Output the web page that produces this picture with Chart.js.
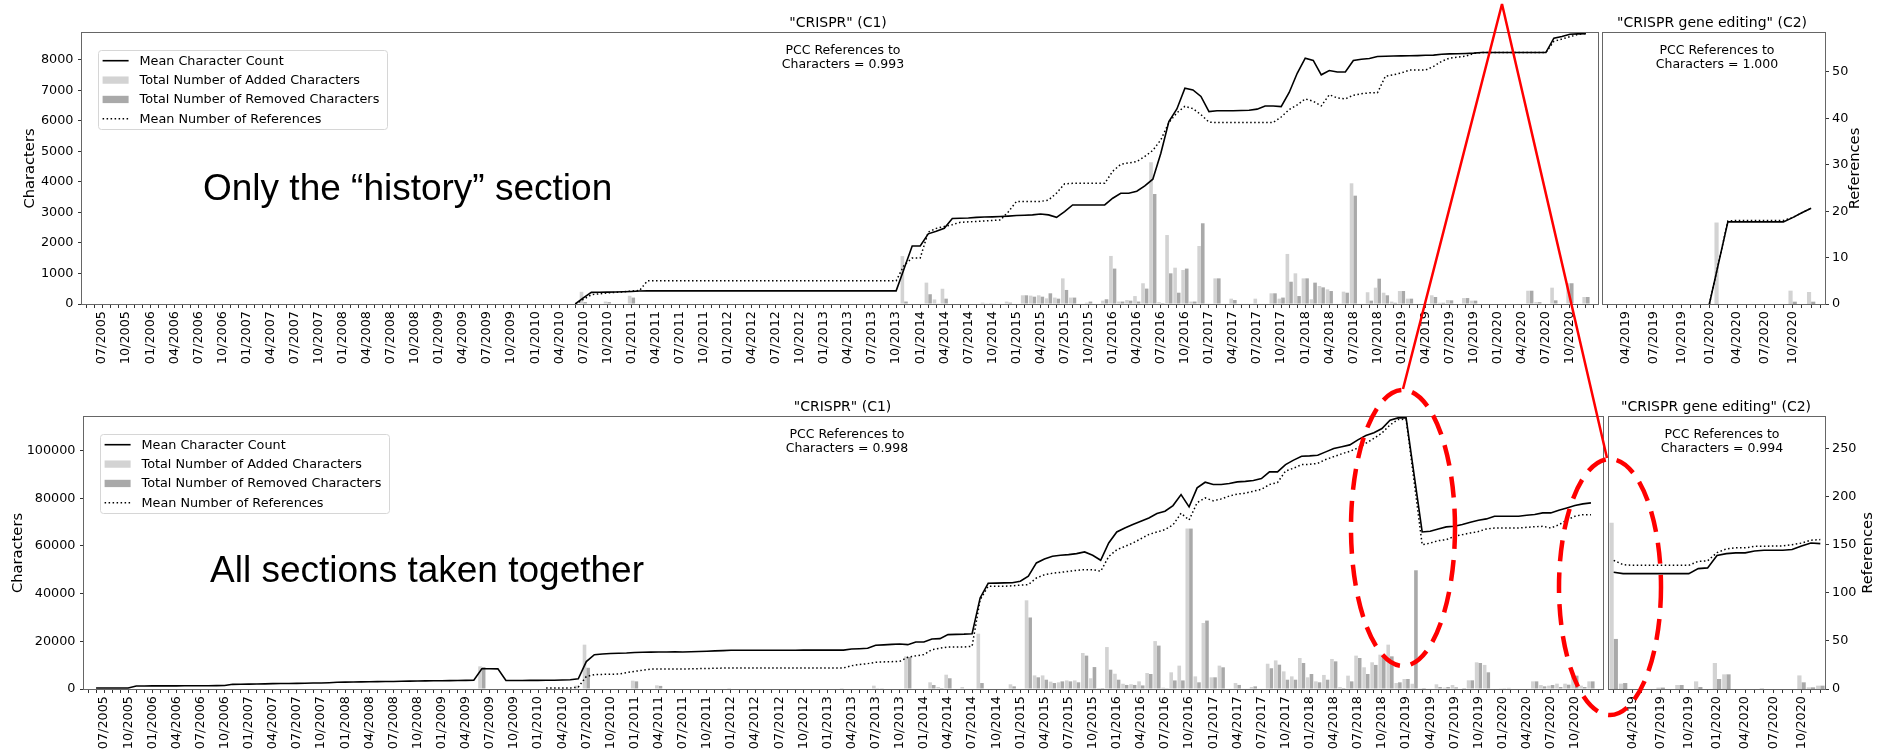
<!DOCTYPE html>
<html><head><meta charset="utf-8">
<script src="https://cdn.jsdelivr.net/npm/chart.js@4.4.1/dist/chart.umd.min.js"></script>
<style>
html,body{margin:0;padding:0;background:#fff;}
body{width:1877px;height:752px;position:relative;overflow:hidden;}
.cw{position:absolute;}
.cw canvas{display:block;}
.big{position:absolute;font-family:'Liberation Sans',Arial,sans-serif;font-size:37px;line-height:37px;color:#000;white-space:nowrap;}
svg.ov{position:absolute;left:0;top:0;pointer-events:none;}
</style></head><body>
<div class="cw" style="left:0;top:0;width:1600px;height:376px"><canvas id="top1" width="1600" height="376"></canvas></div>
<div class="cw" style="left:1598px;top:0;width:279px;height:376px"><canvas id="top2" width="279" height="376"></canvas></div>
<div class="cw" style="left:0;top:380px;width:1605px;height:372px"><canvas id="bot1" width="1605" height="372"></canvas></div>
<div class="cw" style="left:1605px;top:380px;width:272px;height:372px"><canvas id="bot2" width="272" height="372"></canvas></div>
<div class="big" style="left:203px;top:169px">Only the “history” section</div>
<div class="big" style="left:210px;top:551px">All sections taken together</div>
<svg class="ov" width="1877" height="752">
  <polyline points="1403,389 1502,4 1607,458" fill="none" stroke="#ff0000" stroke-width="2.5"/>
  <ellipse cx="1403" cy="528" rx="52" ry="138" fill="none" stroke="#ff0000" stroke-width="4.5" stroke-dasharray="21 11"/>
  <ellipse cx="1610" cy="587" rx="51" ry="128" fill="none" stroke="#ff0000" stroke-width="4.5" stroke-dasharray="21 11"/>
</svg>
<script>
// ---------------- DATA ----------------
// Month ranges of the x axes (MM/YYYY)
const c1Start = '05/2005', c1End = '01/2021';
const c2TopStart = '02/2019', c2TopEnd = '01/2021';
const c2BotStart = '02/2019', c2BotEnd = '12/2020';
const lastTickLabel = '10/2020';
const quarterMonths = ['01', '04', '07', '10'];

// Top row: only the "history" section -- "CRISPR" (C1)
const histC1LineStart = '06/2010';
const histC1Chars = [
  0, 200, 380, 385, 390, 395, 400,                                   // 2010 (06-12)
  410, 425, 430, 430, 430, 430, 430, 430, 430, 430, 430, 430,        // 2011
  430, 430, 430, 430, 430, 430, 430, 430, 430, 430, 430, 430,        // 2012
  430, 430, 430, 430, 430, 430, 430, 430, 430, 430, 1160, 1900,      // 2013
  1900, 2300, 2380, 2480, 2800, 2810, 2820, 2840, 2850, 2855, 2865, 2880, // 2014
  2900, 2910, 2920, 2950, 2920, 2840, 3030, 3245, 3245, 3245, 3245, 3245, // 2015
  3465, 3630, 3630, 3695, 3870, 4090, 4940, 5980, 6390, 7070, 7015, 6800, // 2016
  6305, 6330, 6330, 6330, 6340, 6350, 6385, 6490, 6490, 6470, 6930, 7560, // 2017
  8055, 7980, 7510, 7650, 7600, 7600, 7980, 8020, 8045, 8110, 8120, 8125, // 2018
  8130, 8135, 8140, 8150, 8155, 8185, 8195, 8200, 8210, 8220, 8240, 8240, // 2019
  8240, 8240, 8240, 8240, 8240, 8240, 8240, 8710, 8765, 8840, 8850, 8855  // 2020
];
const histC1Refs = [
  0, 1.0, 2.0, 2.2, 2.4, 2.5, 2.6,                                   // 2010 (06-12)
  2.8, 2.9, 5, 5, 5, 5, 5, 5, 5, 5, 5, 5,                            // 2011
  5, 5, 5, 5, 5, 5, 5, 5, 5, 5, 5, 5,                                // 2012
  5, 5, 5, 5, 5, 5, 5, 5, 5, 5, 8.4, 9.9,                            // 2013
  9.9, 15.5, 16.3, 16.7, 17.1, 17.6, 17.7, 17.8, 17.9, 18.0, 18.1, 19.9, // 2014
  22.1, 22.1, 22.1, 22.1, 22.4, 23.9, 25.9, 26.0, 26.0, 26.0, 26.0, 26.0, // 2015
  28.6, 30.1, 30.4, 30.7, 31.8, 33.1, 35.4, 39.1, 41.2, 42.6, 42.1, 40.8, // 2016
  39.2, 39.1, 39.1, 39.1, 39.1, 39.1, 39.1, 39.1, 39.1, 40.3, 41.9, 42.9, // 2017
  44.2, 43.7, 42.7, 45.1, 44.4, 44.2, 45.0, 45.3, 45.5, 45.5, 49.1, 49.4, // 2018
  49.8, 50.4, 50.4, 50.4, 51.2, 52.3, 53.0, 53.2, 53.4, 54.0, 54.2, 54.2, // 2019
  54.2, 54.2, 54.2, 54.2, 54.2, 54.2, 54.2, 56.6, 57.1, 57.6, 58.1, 58.3  // 2020
];
// [month, added characters, removed characters]
const histC1Bars = [
  ['07/2010', 400, 60], ['10/2010', 80, 60], ['01/2011', 270, 210], ['11/2013', 1570, 80],
  ['02/2014', 700, 320], ['03/2014', 150, 20], ['04/2014', 500, 175], ['09/2014', 45, 20],
  ['10/2014', 30, 20], ['12/2014', 80, 45], ['02/2015', 285, 285], ['03/2015', 275, 240],
  ['04/2015', 285, 240], ['05/2015', 185, 350], ['06/2015', 210, 175], ['07/2015', 840, 460],
  ['08/2015', 210, 210], ['10/2015', 45, 80], ['12/2015', 110, 155], ['01/2016', 1575, 1160],
  ['02/2016', 80, 80], ['03/2016', 130, 110], ['04/2016', 260, 80], ['05/2016', 680, 505],
  ['06/2016', 4645, 3605], ['07/2016', 60, 30], ['08/2016', 2260, 1005], ['09/2016', 1190, 370],
  ['10/2016', 1115, 1160], ['11/2016', 80, 80], ['12/2016', 1900, 2645], ['01/2017', 20, 0],
  ['02/2017', 840, 840], ['04/2017', 175, 130], ['07/2017', 175, 0], ['09/2017', 350, 350],
  ['10/2017', 175, 210], ['11/2017', 1640, 730], ['12/2017', 1005, 260], ['01/2018', 840, 840],
  ['02/2018', 155, 700], ['03/2018', 590, 545], ['04/2018', 480, 425], ['06/2018', 405, 370],
  ['07/2018', 3955, 3550], ['09/2018', 385, 110], ['10/2018', 535, 830], ['11/2018', 370, 285],
  ['12/2018', 80, 40], ['01/2019', 425, 425], ['02/2019', 175, 175], ['05/2019', 285, 230],
  ['06/2019', 40, 40], ['07/2019', 130, 120], ['09/2019', 195, 195], ['10/2019', 110, 110],
  ['05/2020', 435, 435], ['06/2020', 60, 60], ['08/2020', 535, 120], ['10/2020', 680, 680],
  ['12/2020', 230, 230]
];

// Top row: "CRISPR gene editing" (C2)
const histC2LineStart = '01/2020';
const histC2Chars = [0, 1350, 2690, 2690, 2690, 2690, 2690, 2690, 2690, 2830, 2990, 3140];
const histC2Refs = [0, 8.9, 17.9, 18.0, 18.0, 18.0, 18.0, 18.0, 18.0, 18.6, 19.7, 20.6];
const histC2Bars = [['02/2020', 2670, 0], ['10/2020', 437, 76], ['12/2020', 393, 76]];

// Bottom row: all sections taken together -- "CRISPR" (C1)
const allC1CharStart = '06/2005';
const allC1Chars = [
  420, 420, 420, 420, 420, 1260, 1280,                                         // 2005 (06-12)
  1300, 1310, 1320, 1330, 1340, 1350, 1360, 1380, 1400, 1450, 1960, 2000,       // 2006
  2040, 2080, 2160, 2240, 2280, 2320, 2380, 2440, 2500, 2520, 2650, 2800,       // 2007
  2900, 2960, 3000, 3040, 3080, 3120, 3170, 3220, 3300, 3350, 3400, 3430,       // 2008
  3460, 3500, 3550, 3600, 3700, 8500, 8500, 8450, 3550, 3560, 3580, 3600,       // 2009
  3620, 3650, 3700, 3800, 3900, 4300, 11500, 14400, 14700, 14900, 15000, 15100, // 2010
  15300, 15400, 15450, 15500, 15550, 15600, 15550, 15600, 15700, 15850, 16000, 16100, // 2011
  16230, 16250, 16250, 16250, 16250, 16250, 16250, 16250, 16250, 16300, 16300, 16300, // 2012
  16300, 16300, 16300, 16790, 16900, 17070, 18330, 18500, 18700, 18890, 18600, 19730, // 2013
  19730, 20990, 21130, 22800, 22900, 23000, 23200, 38200, 44350, 44400, 44500, 44600, // 2014
  45190, 47290, 52880, 54560, 55680, 56100, 56380, 56800, 57500, 56100, 54000, 61280, // 2015
  65890, 67570, 68970, 70370, 71770, 73590, 74570, 76950, 81560, 76390, 84360, 86740, // 2016
  85760, 85760, 86200, 86880, 87100, 87440, 88280, 91080, 91080, 94150, 96000, 97650, // 2017
  97800, 98070, 99470, 100870, 101600, 102400, 104500, 106320, 107500, 109260, 112760, 113740, // 2018
  113740, 89800, 65890, 66170, 67150, 68000, 68270, 68970, 69950, 70790, 71350, 72470, // 2019
  72470, 72470, 72470, 72890, 73170, 73870, 73870, 74990, 75970, 76950, 77650, 78060  // 2020
];
const allC1RefStart = '02/2010';
const allC1Refs = [
  1, 1, 1, 1, 2, 13, 15, 15.2, 15.4, 15.6, 17,                                 // 2010 (02-12)
  18.4, 19.5, 20.8, 20.8, 20.8, 20.8, 20.8, 21.0, 21.2, 21.4, 21.6, 21.8,       // 2011
  21.9, 21.9, 21.9, 21.9, 21.9, 21.9, 21.9, 21.9, 21.9, 21.9, 21.9, 21.9,       // 2012
  21.9, 21.9, 21.9, 24.3, 25.5, 26.4, 27.8, 28.2, 28.5, 28.8, 33.0, 34.5,       // 2013
  35.8, 41.0, 42.5, 43.8, 43.8, 43.8, 44.5, 93, 107, 107, 107, 107.5,           // 2014
  108.2, 108.7, 115.6, 119, 120.5, 121.5, 122.5, 123.6, 124.3, 124.3, 122.6, 138, // 2015
  145, 148.5, 152, 156.5, 161, 163.5, 166, 171, 183, 176, 194, 199,             // 2016
  196, 198, 201, 203, 204, 206, 208, 213, 215, 227, 230, 233.7,                 // 2017
  234, 235, 239, 242, 245, 247.6, 251, 256, 261, 266.7, 275, 280.6,             // 2018
  281, 216, 150.3, 152, 154.5, 155.5, 159, 160.8, 162.5, 164, 166.7, 167.7,     // 2019
  167.7, 167.7, 167.7, 168.4, 169, 169.4, 167.7, 171, 176, 179.9, 181.6, 181.6  // 2020
];
const allC1Bars = [
  ['06/2009', 9500, 9200], ['06/2010', 1400, 200], ['07/2010', 18600, 8900], ['01/2011', 3500, 3200],
  ['04/2011', 1540, 1300], ['01/2012', 400, 0], ['03/2013', 400, 0], ['07/2013', 1400, 300],
  ['08/2013', 400, 0], ['11/2013', 13700, 13400], ['02/2014', 2800, 1680], ['03/2014', 840, 400],
  ['04/2014', 6000, 4500], ['06/2014', 840, 0], ['08/2014', 23200, 2500], ['12/2014', 1960, 1100],
  ['02/2015', 37200, 30000], ['03/2015', 5700, 4900], ['04/2015', 5700, 3900], ['05/2015', 3100, 2500],
  ['06/2015', 2800, 3200], ['07/2015', 3600, 3200], ['08/2015', 3600, 2800], ['09/2015', 15100, 14000],
  ['10/2015', 4500, 9200], ['11/2015', 400, 400], ['12/2015', 17600, 8100], ['01/2016', 6400, 3900],
  ['02/2016', 2200, 1700], ['03/2016', 2000, 1700], ['04/2016', 3200, 1500], ['05/2016', 6700, 6300],
  ['06/2016', 20100, 18200], ['07/2016', 600, 300], ['08/2016', 7000, 3600], ['09/2016', 9800, 3600],
  ['10/2016', 67300, 67300], ['11/2016', 5300, 2800], ['12/2016', 27700, 28700], ['01/2017', 4900, 4900],
  ['02/2017', 9800, 9100], ['04/2017', 2500, 1700], ['06/2017', 840, 1100], ['08/2017', 10600, 8700],
  ['09/2017', 12000, 10200], ['10/2017', 7400, 3900], ['11/2017', 5300, 3900], ['12/2017', 13000, 10900],
  ['01/2018', 4900, 6300], ['02/2018', 3200, 2800], ['03/2018', 5900, 3900], ['04/2018', 12600, 11600],
  ['05/2018', 840, 400], ['06/2018', 5600, 3200], ['07/2018', 14000, 13000], ['08/2018', 9100, 6300],
  ['09/2018', 11200, 10100], ['10/2018', 14400, 13700], ['11/2018', 18600, 13700], ['12/2018', 2500, 2800],
  ['01/2019', 4200, 4200], ['02/2019', 2200, 49800], ['03/2019', 300, 400], ['05/2019', 1960, 840],
  ['06/2019', 560, 840], ['07/2019', 1680, 700], ['08/2019', 0, 400], ['09/2019', 3640, 3640],
  ['10/2019', 11200, 10900], ['11/2019', 10100, 7000], ['01/2020', 300, 300], ['02/2020', 500, 0],
  ['05/2020', 3200, 3200], ['06/2020', 1680, 1100], ['07/2020', 1400, 1680], ['08/2020', 2240, 840],
  ['09/2020', 2240, 1800], ['10/2020', 6400, 5600], ['11/2020', 1400, 840], ['12/2020', 3200, 3200]
];

// Bottom row: "CRISPR gene editing" (C2)
const allC2LineStart = '02/2019';
const allC2Chars = [48960, 48400, 48400, 48400, 48400, 48400, 48400, 48400, 48400, 50500, 50800,
  56000, 56800, 57100, 57100, 57900, 58200, 58200, 58200, 58500, 60000, 61270, 61000];
const allC2Refs = [134, 129.5, 128.8, 128.8, 128.8, 128.8, 128.8, 128.8, 128.8, 133, 133.5,
  142, 146, 147, 147, 148.6, 148.6, 149, 149, 150.3, 152, 155, 155.6];
const allC2Bars = [
  ['02/2019', 69700, 21000], ['03/2019', 2240, 2500], ['07/2019', 600, 600], ['09/2019', 1680, 1680],
  ['11/2019', 3200, 840], ['01/2020', 10900, 4200], ['02/2020', 6150, 6150], ['06/2020', 300, 0],
  ['10/2020', 5700, 2800], ['11/2020', 700, 700], ['12/2020', 1400, 1400]
];

// Axis limits and tick steps
const topCharsMax = 8880, topCharsStep = 1000, topRefsMax = 58.4, topRefsStep = 10;
const botCharsMax = 114100, botCharsStep = 20000, botRefsMax = 283.3, botRefsStep = 50;

// Texts
const seriesLabels = ['Mean Character Count', 'Total Number of Added Characters',
  'Total Number of Removed Characters', 'Mean Number of References'];
const titleC1 = '"CRISPR" (C1)', titleC2 = '"CRISPR gene editing" (C2)';
const pccTop = [['PCC References to', 'Characters = 0.993'], ['PCC References to', 'Characters = 1.000']];
const pccBot = [['PCC References to', 'Characters = 0.998'], ['PCC References to', 'Characters = 0.994']];

// ---------------- HELPERS ----------------
function monthRange(start, end) {
  let [m, y] = start.split('/').map(Number);
  const [em, ey] = end.split('/').map(Number);
  const out = [];
  while (y < ey || (y === ey && m <= em)) {
    out.push(String(m).padStart(2, '0') + '/' + y);
    m++; if (m > 12) { m = 1; y++; }
  }
  return out;
}
function placeSeries(cats, start, values) {
  const arr = new Array(cats.length).fill(null);
  const i0 = cats.indexOf(start);
  values.forEach((v, j) => { if (i0 + j < cats.length) arr[i0 + j] = v; });
  return arr;
}
function placeBars(cats, rows, col) {
  const arr = new Array(cats.length).fill(0);
  rows.forEach(r => { const i = cats.indexOf(r[0]); if (i >= 0) arr[i] = r[col]; });
  return arr;
}
function showTick(label) {
  if (!quarterMonths.includes(label.slice(0, 2))) return false;
  const [m, y] = label.split('/').map(Number);
  const [lm, ly] = lastTickLabel.split('/').map(Number);
  return y * 12 + m <= ly * 12 + lm;
}
function stepTicks(max, step) {
  const t = [];
  for (let v = 0; v <= max + 1e-9; v += step) t.push({ value: v });
  return t;
}

Chart.defaults.font.family = "'DejaVu Sans', sans-serif";
Chart.defaults.font.size = 12.8;
Chart.defaults.color = '#000';

const FONT = "'DejaVu Sans', sans-serif";
const decor = {
  id: 'decor',
  afterDraw(chart, args, o) {
    const ctx = chart.ctx, a = chart.chartArea;
    const cx = (a.left + a.right) / 2, cy = (a.top + a.bottom) / 2;
    ctx.save();
    // frame
    ctx.strokeStyle = '#666';
    ctx.lineWidth = 1;
    ctx.strokeRect(Math.round(a.left) - 0.5, Math.round(a.top) - 0.5,
      Math.round(a.right - a.left) + 1, Math.round(a.bottom - a.top) + 1);
    ctx.fillStyle = '#000';
    // title
    ctx.font = '14px ' + FONT;
    ctx.textAlign = 'center';
    ctx.textBaseline = 'middle';
    ctx.fillText(o.title, cx + o.titleDx, a.top - 10);
    // PCC note
    ctx.font = '12.5px ' + FONT;
    ctx.fillText(o.pcc[0], cx + o.pccDx, a.top + 17.5);
    ctx.fillText(o.pcc[1], cx + o.pccDx, a.top + 31.5);
    // axis titles
    ctx.font = '14.7px ' + FONT;
    if (o.leftTitle) {
      ctx.save(); ctx.translate(o.leftTitleX, cy); ctx.rotate(-Math.PI / 2);
      ctx.fillText(o.leftTitle, 0, 0); ctx.restore();
    }
    if (o.rightTitle) {
      ctx.save(); ctx.translate(o.rightTitleX, cy); ctx.rotate(-Math.PI / 2);
      ctx.fillText(o.rightTitle, 0, 0); ctx.restore();
    }
    // legend
    if (o.legend) {
      const bx = a.left + 16, by = a.top + 17, bw = 289, bh = 79;
      ctx.beginPath();
      ctx.roundRect(bx + 0.5, by + 0.5, bw, bh, 3);
      ctx.fillStyle = 'rgba(255,255,255,0.85)';
      ctx.fill();
      ctx.strokeStyle = '#d6d6d6';
      ctx.stroke();
      const ds = chart.data.datasets;
      ctx.font = '12.8px ' + FONT;
      ctx.textAlign = 'left';
      for (let i = 0; i < ds.length; i++) {
        const y = by + 10.7 + i * 19.35;
        const d = ds[i];
        if (d.type === 'line') {
          ctx.beginPath();
          ctx.strokeStyle = d.borderColor;
          ctx.lineWidth = d.borderWidth;
          ctx.setLineDash(d.borderDash || []);
          ctx.moveTo(bx + 4.6, y); ctx.lineTo(bx + 30.6, y);
          ctx.stroke();
          ctx.setLineDash([]);
        } else {
          ctx.fillStyle = d.backgroundColor;
          ctx.fillRect(bx + 4.6, y - 3.6, 26, 7.3);
        }
        ctx.fillStyle = '#000';
        ctx.fillText(d.label, bx + 41.5, y + 0.5);
      }
    }
    ctx.restore();
  }
};

function makePanel(id, p) {
  const cats = monthRange(p.start, p.end);
  const gridOpts = { display: true, drawOnChartArea: false, drawTicks: true, tickLength: 4, tickColor: '#333', tickWidth: 1, offset: false };
  const fitY = (shown) => (s => { if (shown) s.width = p.yW; s.paddingTop = 0; s.paddingBottom = 0; });
  return new Chart(document.getElementById(id), {
    type: 'bar',
    data: {
      labels: cats,
      datasets: [
        { type: 'line', label: seriesLabels[0], data: placeSeries(cats, p.charStart, p.chars), yAxisID: 'yC',
          borderColor: '#000', borderWidth: 1.6, pointRadius: 0, tension: 0, order: 0 },
        { type: 'bar', label: seriesLabels[1], data: placeBars(cats, p.bars, 1), yAxisID: 'yC',
          backgroundColor: '#d3d3d3', borderWidth: 0, categoryPercentage: 0.9, barPercentage: 1.0, order: 2 },
        { type: 'bar', label: seriesLabels[2], data: placeBars(cats, p.bars, 2), yAxisID: 'yC',
          backgroundColor: '#a9a9a9', borderWidth: 0, categoryPercentage: 0.9, barPercentage: 1.0, order: 2 },
        { type: 'line', label: seriesLabels[3], data: placeSeries(cats, p.refStart, p.refs), yAxisID: 'yR',
          borderColor: '#000', borderWidth: 1.5, borderDash: [1.5, 2.5], pointRadius: 0, tension: 0, order: 1 }
      ]
    },
    options: {
      responsive: false, animation: false, events: [], devicePixelRatio: 1,
      layout: { padding: { left: p.padL, right: p.padR, top: p.padT, bottom: 0 } },
      plugins: { legend: { display: false }, tooltip: { enabled: false }, title: { display: false }, decor: p.decor },
      scales: {
        x: {
          type: 'category', offset: true, grid: gridOpts, border: { display: false },
          ticks: { autoSkip: false, maxRotation: 90, minRotation: 90, padding: 3, color: '#000', font: { size: 12.8 },
            callback: function (v) { const l = this.getLabelForValue(v); return showTick(l) ? l : ''; } },
          afterFit: s => { s.height = p.xH; s.paddingLeft = 0; s.paddingRight = 0; }
        },
        yC: {
          type: 'linear', position: 'left', display: p.showLeft, min: 0, max: p.cMax,
          grid: gridOpts, border: { display: false },
          ticks: { padding: 4.5, color: '#000', font: { size: 12.8 }, callback: v => String(v) },
          afterBuildTicks: s => { s.ticks = stepTicks(p.cMax, p.cStep); },
          afterFit: fitY(p.showLeft)
        },
        yR: {
          type: 'linear', position: 'right', display: p.showRight, min: 0, max: p.rMax,
          grid: gridOpts, border: { display: false },
          ticks: { padding: 3, color: '#000', font: { size: 12.8 }, callback: v => String(v) },
          afterBuildTicks: s => { s.ticks = stepTicks(p.rMax, p.rStep); },
          afterFit: fitY(p.showRight)
        }
      }
    },
    plugins: [decor]
  });
}

makePanel('top1', {
  start: c1Start, end: c1End, charStart: histC1LineStart, chars: histC1Chars, refStart: histC1LineStart, refs: histC1Refs,
  bars: histC1Bars, cMax: topCharsMax, cStep: topCharsStep, rMax: topRefsMax, rStep: topRefsStep,
  showLeft: true, showRight: false, yW: 82, xH: 72, padL: 0, padR: 2, padT: 33,
  decor: { title: titleC1, titleDx: -2, pcc: pccTop[0], pccDx: 3, legend: true, leftTitle: 'Characters', leftTitleX: 30.5 }
});
makePanel('top2', {
  start: c2TopStart, end: c2TopEnd, charStart: histC2LineStart, chars: histC2Chars, refStart: histC2LineStart, refs: histC2Refs,
  bars: histC2Bars, cMax: topCharsMax, cStep: topCharsStep, rMax: topRefsMax, rStep: topRefsStep,
  showLeft: false, showRight: true, yW: 52, xH: 72, padL: 5, padR: 0, padT: 33,
  decor: { title: titleC2, titleDx: -2, pcc: pccTop[1], pccDx: 3, legend: false, rightTitle: 'References', rightTitleX: 257 }
});
makePanel('bot1', {
  start: c1Start, end: c1End, charStart: allC1CharStart, chars: allC1Chars, refStart: allC1RefStart, refs: allC1Refs,
  bars: allC1Bars, cMax: botCharsMax, cStep: botCharsStep, rMax: botRefsMax, rStep: botRefsStep,
  showLeft: true, showRight: false, yW: 84, xH: 63, padL: 0, padR: 2, padT: 37,
  decor: { title: titleC1, titleDx: -1, pcc: pccBot[0], pccDx: 3.5, legend: true, leftTitle: 'Characters', leftTitleX: 18 }
});
makePanel('bot2', {
  start: c2BotStart, end: c2BotEnd, charStart: allC2LineStart, chars: allC2Chars, refStart: allC2LineStart, refs: allC2Refs,
  bars: allC2Bars, cMax: botCharsMax, cStep: botCharsStep, rMax: botRefsMax, rStep: botRefsStep,
  showLeft: false, showRight: true, yW: 52, xH: 63, padL: 4, padR: 0, padT: 37,
  decor: { title: titleC2, titleDx: -1, pcc: pccBot[1], pccDx: 5, legend: false, rightTitle: 'References', rightTitleX: 263 }
});
</script>
</body></html>
